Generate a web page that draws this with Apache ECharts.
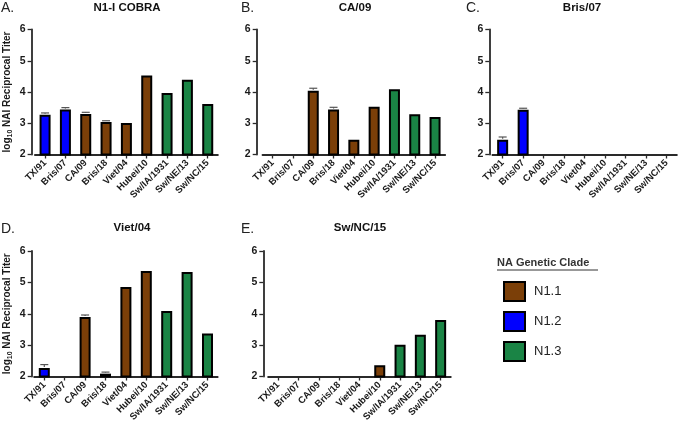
<!DOCTYPE html>
<html><head><meta charset="utf-8">
<script src="https://cdn.jsdelivr.net/npm/echarts@6/dist/echarts.min.js"></script>
<style>html,body{margin:0;padding:0;background:#fff}#c{width:680px;height:426px}</style>
</head><body><div id="c"></div>
<script>
// ---------- data ----------
const categories = ['TX/91','Bris/07','CA/09','Bris/18','Viet/04','Hubei/10','Sw/IA/1931','Sw/NE/13','Sw/NC/15'];
const clade = ['N1.2','N1.2','N1.1','N1.1','N1.1','N1.1','N1.3','N1.3','N1.3'];
const cladeNames = ['N1.1','N1.2','N1.3'];
const yTicks = [2,3,4,5,6];
const panelTitles = ['N1-I COBRA','CA/09','Bris/07','Viet/04','Sw/NC/15'];
const panelLetters = ['A.','B.','C.','D.','E.'];
const valuesA = [3.27,3.44,3.30,3.04,3.01,4.53,3.97,4.39,3.62];
const errorsA = [0.06,0.06,0.05,0.04,0,0,0,0,0];
const valuesB = [null,null,4.04,3.44,2.47,3.53,4.09,3.29,3.20];
const errorsB = [0,0,0.08,0.07,0,0,0,0,0];
const valuesC = [2.47,3.43,null,null,null,null,null,null,null];
const errorsC = [0.09,0.05,0,0,0,0,0,0,0];
const valuesD = [2.27,null,3.90,2.09,4.85,5.36,4.09,5.33,3.37];
const errorsD = [0.11,0,0.06,0.05,0,0,0,0,0];
const valuesE = [null,null,null,null,null,2.36,3.01,3.33,3.80];
const errorsE = [0,0,0,0,0,0,0,0,0];

// ---------- styles / layout ----------
const FONT = '"Liberation Sans", Arial, sans-serif';
const cladeColors = {'N1.1':'#7B3F08','N1.2':'#0000FF','N1.3':'#1A8445'};
const panelValues = [valuesA,valuesB,valuesC,valuesD,valuesE];
const panelErrors = [errorsA,errorsB,errorsC,errorsD,errorsE];
const grids = [
  {left:34.9, top:29.5, width:183, height:125, off:3.3, yname:true, tx:127, ty:8, lx:1, ly:8},
  {left:262.5, top:29.5, width:182.7, height:125, off:5.8, yname:false, tx:355, ty:8, lx:241, ly:8},
  {left:492.4, top:29.5, width:184.5, height:125, off:3.1, yname:false, tx:582, ty:8, lx:466, ly:8},
  {left:34.1, top:251, width:183.6, height:125.5, off:2.4, yname:true, tx:132, ty:228, lx:1, ly:229},
  {left:268.1, top:251, width:182.7, height:125.5, off:4.8, yname:false, tx:360, ty:228, lx:241, ly:229}
];
const axisColor = '#2a2a2a';

const option = {
  animation:false,
  backgroundColor:'#fff',
  grid: grids.map(g=>({left:g.left, top:g.top, width:g.width, height:g.height, containLabel:false})),
  xAxis: grids.map((g,i)=>({
    type:'category', gridIndex:i, data:categories, boundaryGap:true,
    axisLine:{show:true, lineStyle:{color:axisColor, width:1.8}},
    axisTick:{show:true, alignWithLabel:true, length:4, lineStyle:{color:axisColor, width:1.3}},
    axisLabel:{interval:0, rotate:45, fontSize:9.5, fontWeight:'bold', color:'#1a1a1a', fontFamily:FONT, margin:7}
  })),
  yAxis: grids.map((g,i)=>({
    type:'value', gridIndex:i, min:yTicks[0], max:yTicks[yTicks.length-1], interval:1, offset:g.off,
    splitLine:{show:false},
    axisLine:{show:true, lineStyle:{color:axisColor, width:1.8}},
    axisTick:{show:true, length:4, lineStyle:{color:axisColor, width:1.3}},
    axisLabel:{fontSize:10.5, fontWeight:'bold', color:'#1a1a1a', fontFamily:FONT, margin:6},
    name: g.yname ? '{a|log}{b|10}{a| NAI Reciprocal Titer}' : '',
    nameLocation:'middle', nameGap:18, nameRotate:90,
    nameTextStyle:{rich:{
      a:{fontSize:10, fontWeight:'bold', color:'#1a1a1a', fontFamily:FONT, lineHeight:12},
      b:{fontSize:7, fontWeight:'bold', color:'#1a1a1a', fontFamily:FONT, lineHeight:12, verticalAlign:'bottom', padding:[4,0,0,0]}
    }}
  })),
  legend:{
    orient:'vertical', left:498, top:276, data:cladeNames, icon:'rect',
    itemWidth:21, itemHeight:19, itemGap:9,
    itemStyle:{borderColor:'#000', borderWidth:2},
    textStyle:{fontSize:13, color:'#222', fontFamily:FONT, padding:[0,0,0,4]},
    selectedMode:false
  },
  graphic: [],
  series: []
};

grids.forEach((g,pi)=>{
  option.graphic.push({type:'text', x:g.tx, y:g.ty, style:{text:panelTitles[pi], font:'bold 11.5px '+FONT, fill:'#111', textAlign:'center', textVerticalAlign:'middle'}});
  option.graphic.push({type:'text', x:g.lx, y:g.ly, style:{text:panelLetters[pi], font:'14px '+FONT, fill:'#222', textAlign:'left', textVerticalAlign:'middle'}});
  const vals = panelValues[pi], errs = panelErrors[pi];
  cladeNames.forEach(cn=>{
    option.series.push({
      type:'bar', name:cn, xAxisIndex:pi, yAxisIndex:pi,
      barWidth:11, barGap:'-100%',
      itemStyle:{color:cladeColors[cn], borderColor:'#000', borderWidth:2},
      data: vals.map((v,i)=> (clade[i]===cn && v!=null) ? v : '-')
    });
  });
  const ed = [];
  vals.forEach((v,i)=>{ if(v!=null && errs[i]>0) ed.push([i, v, errs[i]]); });
  option.series.push({
    type:'custom', xAxisIndex:pi, yAxisIndex:pi, z:5, data:ed,
    renderItem:(params, api)=>{
      const x = api.value(0), v = api.value(1), e = api.value(2);
      const p0 = api.coord([x, v]); const p1 = api.coord([x, v+e]);
      return {type:'group', children:[
        {type:'line', shape:{x1:p0[0], y1:p0[1]-1, x2:p1[0], y2:p1[1]}, style:{stroke:'#555', lineWidth:1.2}},
        {type:'line', shape:{x1:p1[0]-4, y1:p1[1], x2:p1[0]+4, y2:p1[1]}, style:{stroke:'#555', lineWidth:1.2}}
      ]};
    }
  });
});

// legend title with underline
option.graphic.push({type:'text', x:497, y:263, style:{text:'NA Genetic Clade', font:'bold 11px '+FONT, fill:'#333', textAlign:'left', textVerticalAlign:'middle'}});
option.graphic.push({type:'line', shape:{x1:497, y1:270, x2:598, y2:270}, style:{stroke:'#333', lineWidth:1}});

const chart = echarts.init(document.getElementById('c'), null, {renderer:'canvas'});
chart.setOption(option);
</script>
</body></html>
